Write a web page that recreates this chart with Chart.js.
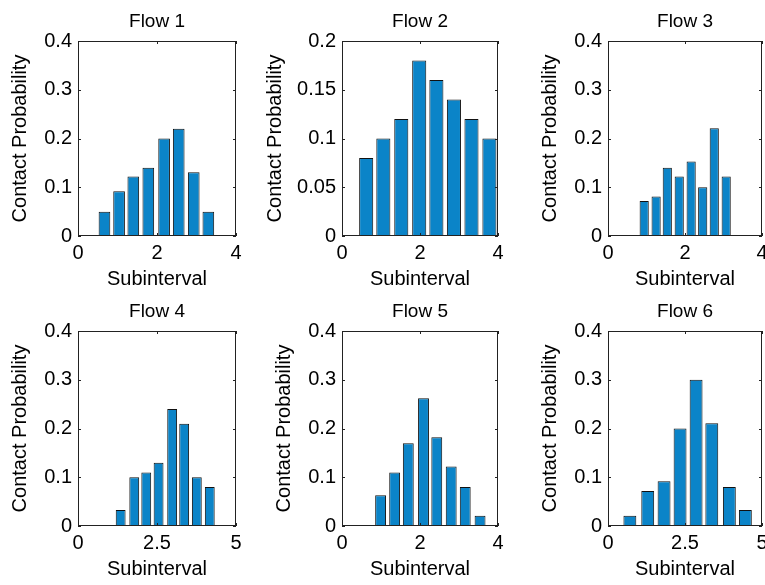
<!DOCTYPE html>
<html>
<head>
<meta charset="utf-8">
<script src="https://cdn.jsdelivr.net/npm/chart.js@4.4.0/dist/chart.umd.min.js"></script>
<style>
  html, body { margin: 0; padding: 0; background: #fff; overflow: hidden; }
  body { width: 765px; height: 585px; position: relative; }
  canvas { position: absolute; }
</style>
</head>
<body>
<script>
// Subinterval centres and contact probabilities
const flow1X = [0.67, 1.04, 1.40, 1.78, 2.18, 2.55, 2.93, 3.30];
const flow1Y = [0.05, 0.092, 0.122, 0.14, 0.20, 0.22, 0.131, 0.05];
const flow2X = [0.62, 1.06, 1.52, 1.98, 2.42, 2.87, 3.32, 3.78];
const flow2Y = [0.08, 0.10, 0.12, 0.18, 0.16, 0.14, 0.12, 0.10];
const flow3X = [0.94, 1.25, 1.54, 1.85, 2.16, 2.46, 2.76, 3.07];
const flow3Y = [0.072, 0.081, 0.14, 0.122, 0.153, 0.10, 0.221, 0.122];
const flow4X = [1.35, 1.78, 2.16, 2.55, 2.98, 3.36, 3.76, 4.17];
const flow4Y = [0.033, 0.10, 0.11, 0.13, 0.24, 0.21, 0.10, 0.08];
const flow5X = [0.99, 1.35, 1.70, 2.09, 2.43, 2.80, 3.16, 3.54];
const flow5Y = [0.063, 0.11, 0.17, 0.262, 0.182, 0.122, 0.08, 0.021];
const flow6X = [0.71, 1.29, 1.82, 2.34, 2.86, 3.37, 3.94, 4.46];
const flow6Y = [0.021, 0.072, 0.092, 0.20, 0.30, 0.211, 0.08, 0.033];

// tick values
const xTicks4 = [0, 2, 4];
const xTicks5 = [0, 2.5, 5];
const yTicks04 = [0, 0.1, 0.2, 0.3, 0.4];
const yTicks02 = [0, 0.05, 0.1, 0.15, 0.2];

const titles = ["Flow 1", "Flow 2", "Flow 3", "Flow 4", "Flow 5", "Flow 6"];

const FONT = "'Liberation Sans', Arial, Helvetica, sans-serif";
const BAR_COLOR = "#0b84c8";
const Y_AXIS_W = 80;
const X_AXIS_H = 55;
const TITLE_H = 41;
const PLOT_H = 195;

// box with inward tick marks, like the original figure
const boxPlugin = {
  id: "matlabBox",
  afterDatasetsDraw(chart) {
    const { ctx, chartArea: a, scales } = chart;
    ctx.save();
    ctx.strokeStyle = "#222";
    ctx.lineWidth = 1;
    ctx.strokeRect(a.left + 0.5, a.top + 0.5, a.right - a.left - 1, a.bottom - a.top - 1);
    ctx.beginPath();
    scales.x.ticks.forEach((t) => {
      const px = Math.round(scales.x.getPixelForValue(t.value)) + 0.5;
      ctx.moveTo(px, a.bottom); ctx.lineTo(px, a.bottom - 3);
      ctx.moveTo(px, a.top); ctx.lineTo(px, a.top + 3);
    });
    scales.y.ticks.forEach((t) => {
      const py = Math.round(scales.y.getPixelForValue(t.value)) + 0.5;
      ctx.moveTo(a.left, py); ctx.lineTo(a.left + 3, py);
      ctx.moveTo(a.right, py); ctx.lineTo(a.right - 3, py);
    });
    ctx.stroke();
    ctx.restore();
  },
};

function makePanel(idx, xs, ys, plotLeft, plotTop, plotW, xMax, xTickVals, yMax, yTickVals, yTitleOffset) {
  const canvas = document.createElement("canvas");
  const w = Y_AXIS_W + plotW + 12;
  const h = TITLE_H + PLOT_H + X_AXIS_H;
  canvas.width = w;
  canvas.height = h;
  canvas.style.left = (plotLeft - Y_AXIS_W) + "px";
  canvas.style.top = (plotTop - TITLE_H) + "px";
  canvas.style.width = w + "px";
  canvas.style.height = h + "px";
  document.body.appendChild(canvas);

  new Chart(canvas.getContext("2d"), {
    type: "bar",
    data: {
      datasets: [{
        data: xs.map((x, i) => ({ x: x, y: ys[i] })),
        backgroundColor: BAR_COLOR,
        borderColor: "#111",
        borderWidth: 1,
        borderSkipped: false,
        barPercentage: 0.82,
        categoryPercentage: 1,
      }],
    },
    options: {
      responsive: false,
      animation: false,
      layout: { padding: { right: 12, left: 0, top: 0, bottom: 0 } },
      plugins: {
        legend: { display: false },
        tooltip: { enabled: false },
        title: {
          display: true,
          text: titles[idx],
          fullSize: false,
          color: "#000",
          font: { family: FONT, size: 19, weight: "normal" },
          padding: { top: 10, bottom: 8.2 },
        },
      },
      scales: {
        x: {
          type: "linear",
          min: 0,
          max: xMax,
          offset: false,
          grid: { display: false, drawTicks: false },
          border: { display: false },
          afterBuildTicks: (s) => { s.ticks = xTickVals.map((v) => ({ value: v })); },
          afterFit: (s) => { s.height = X_AXIS_H; },
          ticks: {
            color: "#000",
            padding: 5,
            maxRotation: 0,
            font: { family: FONT, size: 20 },
            callback: (v) => String(v),
          },
          title: {
            display: true,
            text: "Subinterval",
            color: "#000",
            font: { family: FONT, size: 20 },
            padding: { top: 0, bottom: 0 },
          },
        },
        y: {
          min: 0,
          max: yMax,
          grid: { display: false, drawTicks: false },
          border: { display: false },
          afterBuildTicks: (s) => { s.ticks = yTickVals.map((v) => ({ value: v })); },
          afterFit: (s) => { s.width = Y_AXIS_W; },
          ticks: {
            color: "#000",
            padding: 6,
            font: { family: FONT, size: 20 },
            callback: (v) => String(v),
          },
          title: {
            display: true,
            text: "Contact Probability",
            color: "#000",
            font: { family: FONT, size: 20 },
            padding: { top: Y_AXIS_W - yTitleOffset - 12, bottom: 0 },
          },
        },
      },
    },
    plugins: [boxPlugin],
  });
}

makePanel(0, flow1X, flow1Y, 78, 41, 158, 4, xTicks4, 0.4, yTicks04, 57.5);
makePanel(1, flow2X, flow2Y, 342, 41, 156, 4, xTicks4, 0.2, yTicks02, 67);
makePanel(2, flow3X, flow3Y, 608, 41, 154, 4, xTicks4, 0.4, yTicks04, 58);
makePanel(3, flow4X, flow4Y, 78, 331, 158, 5, xTicks5, 0.4, yTicks04, 57.5);
makePanel(4, flow5X, flow5Y, 342, 331, 156, 4, xTicks4, 0.4, yTicks04, 57.5);
makePanel(5, flow6X, flow6Y, 608, 331, 154, 5, xTicks5, 0.4, yTicks04, 58);
</script>
</body>
</html>
